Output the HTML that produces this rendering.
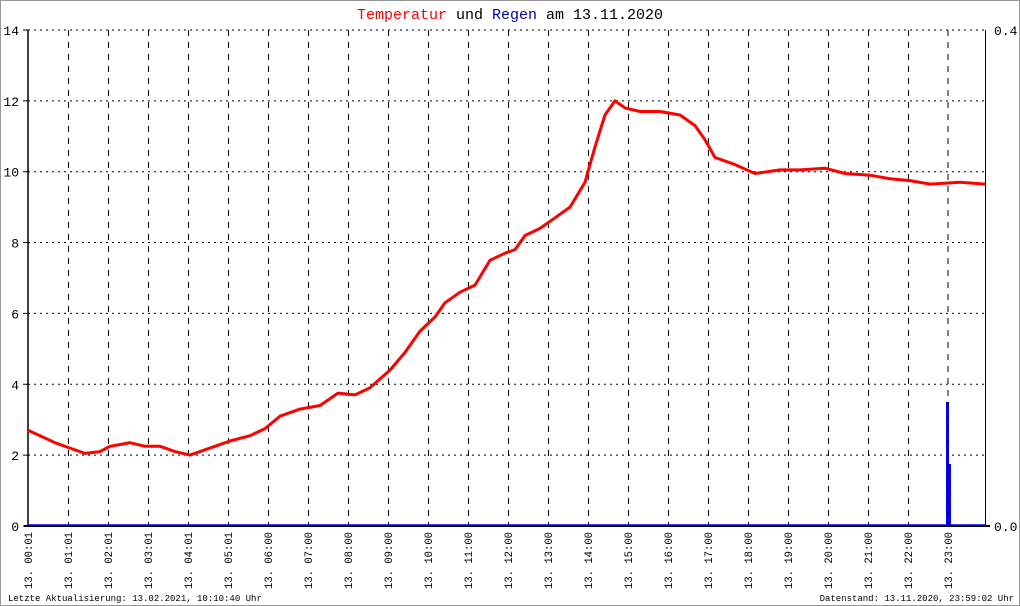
<!DOCTYPE html><html><head><style>body{margin:0;background:#fff}svg{display:block}text{font-family:"Liberation Mono","DejaVu Sans Mono",monospace}</style></head><body>
<svg id="s" width="1020" height="606" xmlns="http://www.w3.org/2000/svg">
<rect x="0.5" y="0.5" width="1019" height="605" fill="#fff" stroke="#999"/>
<text x="510" y="19" font-size="15" text-anchor="middle"><tspan fill="#f00">Temperatur</tspan> und <tspan fill="#00a">Regen</tspan> am 13.11.2020</text>
<g id="grid"></g>
<line x1="28" y1="30" x2="28" y2="527" stroke="#000" stroke-width="1.5"/>
<line x1="985.5" y1="30" x2="985.5" y2="527" stroke="#000"/>
<polyline id="t" fill="none" stroke="#f00" stroke-width="3" stroke-linejoin="round"/>
<rect x="946" y="402" width="3" height="124" fill="#00f"/>
<rect x="946" y="464" width="5" height="62" fill="#00f"/>
<line x1="948" y1="30" x2="948" y2="526" stroke="#000" stroke-dasharray="6,6"/>
<line x1="24" y1="526" x2="990" y2="526" stroke="#000" stroke-width="2"/>
<line x1="28" y1="525" x2="985" y2="525" stroke="#0000ff" stroke-width="1.5"/>
<text x="994" y="35" font-size="13">0.4</text>
<text x="994" y="531" font-size="13">0.0</text>
<text x="8" y="601" font-size="9">Letzte Aktualisierung: 13.02.2021, 10:10:40 Uhr</text>
<text x="1014" y="601" font-size="9" text-anchor="end">Datenstand: 13.11.2020, 23:59:02 Uhr</text>
</svg>
<script>
const ns="http://www.w3.org/2000/svg",g=document.getElementById('grid');
function el(n,a,p){const e=document.createElementNS(ns,n);for(const k in a)e.setAttribute(k,a[k]);(p||g).appendChild(e);return e}
for(let v=0;v<=14;v+=2){const y=526-v*35.43;
 if(v>0)el('line',{x1:28,y1:y,x2:985,y2:y,stroke:'#000','stroke-dasharray':'2,4'});
 el('line',{x1:23,y1:y,x2:28,y2:y,stroke:'#000'});
 const t=el('text',{x:19,y:y+5,'font-size':13,'text-anchor':'end'});t.textContent=v;}
const labs=['00:01','01:01','02:01','03:01','04:01','05:01','06:00','07:00','08:00','09:00','10:00','11:00','12:00','13:00','14:00','15:00','16:00','17:00','18:00','19:00','20:00','21:00','22:00','23:00'];
labs.forEach((l,i)=>{const x=28+i*40;
 if(i>0&&i<23)el('line',{x1:x+0.5,y1:30,x2:x+0.5,y2:526,stroke:'#000','stroke-dasharray':'6,6'});
 const t=el('text',{transform:`translate(${x+4},532) rotate(-90)`,'font-size':11,'text-anchor':'end',textLength:57,lengthAdjust:'spacingAndGlyphs'});t.textContent='13. '+l;});
const p=[[28,2.7],[40,2.55],[55,2.35],[70,2.2],[85,2.05],[100,2.1],[110,2.25],[130,2.35],[145,2.25],[160,2.25],[175,2.1],[190,2.0],[200,2.1],[215,2.25],[230,2.4],[250,2.55],[265,2.75],[280,3.1],[300,3.3],[320,3.4],[338,3.75],[355,3.7],[370,3.9],[390,4.4],[405,4.9],[420,5.5],[435,5.9],[445,6.3],[460,6.6],[475,6.8],[490,7.5],[505,7.7],[515,7.8],[525,8.2],[540,8.4],[555,8.7],[570,9.0],[585,9.7],[595,10.7],[605,11.6],[615,12.0],[625,11.8],[640,11.7],[660,11.7],[680,11.6],[695,11.3],[705,10.9],[715,10.4],[735,10.2],[755,9.95],[780,10.05],[800,10.05],[825,10.1],[845,9.95],[870,9.9],[890,9.8],[910,9.75],[930,9.65],[960,9.7],[985,9.65]];
document.getElementById('t').setAttribute('points',p.map(a=>a[0]+','+(526-a[1]*35.43).toFixed(1)).join(' '));
</script></body></html>
